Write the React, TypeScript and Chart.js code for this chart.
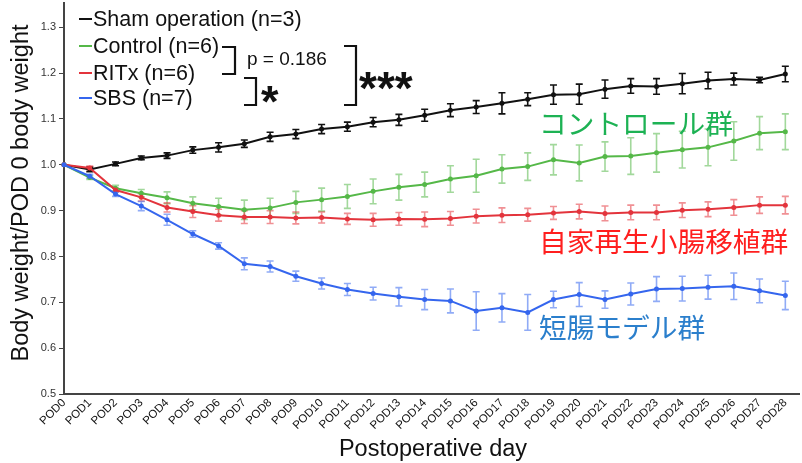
import { useEffect, useRef } from 'react';
import { Chart, registerables } from 'chart.js';

Chart.register(...registerables);

const xLabels = [
  'POD0', 'POD1', 'POD2', 'POD3', 'POD4', 'POD5', 'POD6', 'POD7', 'POD8', 'POD9',
  'POD10', 'POD11', 'POD12', 'POD13', 'POD14', 'POD15', 'POD16', 'POD17', 'POD18', 'POD19',
  'POD20', 'POD21', 'POD22', 'POD23', 'POD24', 'POD25', 'POD26', 'POD27', 'POD28',
];

const sham = [1.0, 0.99, 1.002, 1.015, 1.02, 1.032, 1.038, 1.046, 1.061, 1.067, 1.078, 1.083, 1.093, 1.098, 1.108, 1.119, 1.126, 1.134, 1.143, 1.153, 1.154, 1.165, 1.172, 1.171, 1.177, 1.184, 1.187, 1.185, 1.198];
const shamErr = [0, 0.005, 0.004, 0.004, 0.006, 0.007, 0.01, 0.008, 0.01, 0.01, 0.01, 0.01, 0.01, 0.012, 0.013, 0.014, 0.014, 0.023, 0.014, 0.021, 0.022, 0.02, 0.016, 0.017, 0.022, 0.018, 0.013, 0.006, 0.017];

const control = [1.0, 0.972, 0.949, 0.938, 0.928, 0.916, 0.909, 0.902, 0.906, 0.918, 0.924, 0.931, 0.942, 0.951, 0.957, 0.969, 0.976, 0.991, 0.996, 1.011, 1.004, 1.018, 1.019, 1.026, 1.033, 1.038, 1.052, 1.069, 1.072];
const controlErr = [0, 0.004, 0.006, 0.008, 0.013, 0.014, 0.018, 0.021, 0.021, 0.024, 0.025, 0.026, 0.027, 0.028, 0.027, 0.029, 0.036, 0.031, 0.03, 0.033, 0.039, 0.032, 0.04, 0.042, 0.04, 0.04, 0.042, 0.036, 0.039];

const ritx = [1.0, 0.993, 0.945, 0.929, 0.907, 0.898, 0.89, 0.886, 0.886, 0.884, 0.885, 0.882, 0.88, 0.882, 0.881, 0.883, 0.888, 0.89, 0.891, 0.895, 0.898, 0.894, 0.896, 0.896, 0.901, 0.903, 0.907, 0.912, 0.912];
const ritxErr = [0, 0.004, 0.004, 0.008, 0.01, 0.013, 0.013, 0.014, 0.014, 0.013, 0.012, 0.012, 0.014, 0.014, 0.016, 0.015, 0.015, 0.016, 0.014, 0.014, 0.016, 0.016, 0.016, 0.016, 0.016, 0.016, 0.017, 0.018, 0.019];

const sbs = [1.0, 0.975, 0.936, 0.91, 0.88, 0.849, 0.823, 0.784, 0.778, 0.757, 0.741, 0.728, 0.719, 0.712, 0.706, 0.703, 0.681, 0.688, 0.678, 0.706, 0.717, 0.706, 0.718, 0.729, 0.73, 0.733, 0.735, 0.725, 0.715];
const sbsErr = [0, 0.004, 0.005, 0.01, 0.012, 0.007, 0.007, 0.013, 0.012, 0.011, 0.012, 0.013, 0.014, 0.02, 0.022, 0.026, 0.042, 0.031, 0.039, 0.018, 0.026, 0.019, 0.024, 0.027, 0.027, 0.026, 0.029, 0.026, 0.031];

const seriesNames = ['Sham operation (n=3)', 'Control (n=6)', 'RITx (n=6)', 'SBS (n=7)'];
const seriesColors = ['#111111', '#55b848', '#e3343c', '#3566ee'];
const errColors = ['#111111', 'rgba(85,184,72,0.55)', 'rgba(227,52,60,0.55)', 'rgba(53,102,238,0.55)'];
const groupLabels = ['コントロール群', '自家再生小腸移植群', '短腸モデル群'];
const groupColors = ['#1db254', '#ff1f1f', '#2b7fcc'];
const pText = 'p = 0.186';
const starOne = '*';
const starThree = '***';
const yTitle = 'Body weight/POD 0 body weight';
const xTitle = 'Postoperative day';

const SANS = '"Liberation Sans", Arial, sans-serif';
const CJK = '"Noto Sans CJK JP", sans-serif';

const allValues = [sham, control, ritx, sbs];
const allErrs = [shamErr, controlErr, ritxErr, sbsErr];

const errorBarPlugin = {
  id: 'errorBars',
  beforeDatasetsDraw(chart: any) {
    const { ctx, scales } = chart;
    const xs = scales.x;
    const ys = scales.y;
    ctx.save();
    allValues.forEach((vals, si) => {
      ctx.strokeStyle = errColors[si];
      ctx.lineWidth = 1.6;
      vals.forEach((v, i) => {
        const e = allErrs[si][i];
        if (!e) return;
        const px = xs.getPixelForValue(i);
        const top = ys.getPixelForValue(v + e);
        const bot = ys.getPixelForValue(v - e);
        ctx.beginPath();
        ctx.moveTo(px, top);
        ctx.lineTo(px, bot);
        ctx.moveTo(px - 3.5, top);
        ctx.lineTo(px + 3.5, top);
        ctx.moveTo(px - 3.5, bot);
        ctx.lineTo(px + 3.5, bot);
        ctx.stroke();
      });
    });
    ctx.restore();
  },
};

const annotationPlugin = {
  id: 'annotations',
  afterDraw(chart: any) {
    const { ctx } = chart;
    ctx.save();
    // axis titles
    ctx.fillStyle = '#111';
    ctx.font = `23.5px ${SANS}`;
    ctx.textAlign = 'center';
    ctx.textBaseline = 'middle';
    ctx.save();
    ctx.translate(22, 193);
    ctx.rotate(-Math.PI / 2);
    ctx.fillText(yTitle, 0, 0);
    ctx.restore();
    ctx.textBaseline = 'alphabetic';
    ctx.fillText(xTitle, 433, 456);

    // legend
    const rows = [20, 47, 74, 99];
    ctx.textAlign = 'left';
    ctx.textBaseline = 'middle';
    ctx.font = `21.5px ${SANS}`;
    seriesNames.forEach((name, i) => {
      ctx.strokeStyle = seriesColors[i];
      ctx.lineWidth = 2;
      ctx.beginPath();
      ctx.moveTo(79, rows[i] - 1);
      ctx.lineTo(92, rows[i] - 1);
      ctx.stroke();
      ctx.fillStyle = '#111';
      ctx.fillText(name, 93, rows[i]);
    });

    // brackets
    ctx.strokeStyle = '#111';
    ctx.lineWidth = 2.2;
    const bracket = (x0: number, x1: number, y0: number, y1: number) => {
      ctx.beginPath();
      ctx.moveTo(x0, y0);
      ctx.lineTo(x1, y0);
      ctx.lineTo(x1, y1);
      ctx.lineTo(x0, y1);
      ctx.stroke();
    };
    bracket(222, 235, 47, 74);
    bracket(244, 256, 78, 105);
    bracket(344, 356, 46, 105);

    ctx.fillStyle = '#111';
    ctx.textBaseline = 'alphabetic';
    ctx.font = `19px ${SANS}`;
    ctx.fillText(pText, 247, 64.5);
    ctx.font = `bold 45px ${SANS}`;
    ctx.fillText(starOne, 261, 117);
    ctx.font = `bold 46px ${SANS}`;
    ctx.fillText(starThree, 359, 104);

    // group labels
    ctx.font = `27.7px ${CJK}`;
    ctx.textBaseline = 'middle';
    const gy = [123, 241, 327];
    groupLabels.forEach((t, i) => {
      ctx.fillStyle = groupColors[i];
      ctx.fillText(t, 539, gy[i]);
    });
    ctx.restore();
  },
};

export default function App() {
  const ref = useRef<HTMLCanvasElement>(null);
  useEffect(() => {
    if (!ref.current) return;
    const datasets = allValues.map((vals, si) => ({
      label: seriesNames[si],
      data: vals.map((y, i) => ({ x: i, y })),
      borderColor: seriesColors[si],
      backgroundColor: seriesColors[si],
      borderWidth: 2,
      pointRadius: 2.5,
      pointHoverRadius: 2.5,
      pointBorderWidth: 0,
      tension: 0,
      clip: false as any,
    }));
    // draw black on top
    const ordered = [datasets[3], datasets[2], datasets[1], datasets[0]];
    const chart = new Chart(ref.current, {
      type: 'line',
      data: { datasets: ordered },
      options: {
        responsive: false,
        animation: false,
        events: [],
        layout: { padding: { top: 0, right: 1, left: 0, bottom: 0 } },
        plugins: { legend: { display: false }, tooltip: { enabled: false } },
        scales: {
          x: {
            type: 'linear',
            min: 0,
            max: 28.55,
            offset: false,
            grid: { display: false, drawTicks: false },
            border: { display: true, color: '#444', width: 2 },
            ticks: {
              stepSize: 1,
              includeBounds: false,
              autoSkip: false,
              maxRotation: 45,
              minRotation: 45,
              padding: 2,
              color: '#111',
              font: { family: SANS, size: 11.5 },
              callback: (v: any) => xLabels[Math.round(Number(v))] ?? '',
            },
            afterFit: (s: any) => {
              s.height = 69;
              s.paddingLeft = 0;
              s.paddingRight = 0;
            },
          },
          y: {
            min: 0.5,
            max: 1.354,
            grid: { display: true, drawOnChartArea: false, drawTicks: true, tickLength: 5, color: '#444', lineWidth: 1 },
            border: { display: true, color: '#444', width: 2 },
            ticks: {
              stepSize: 0.1,
              includeBounds: false,
              padding: 3,
              color: '#333',
              font: { family: SANS, size: 11 },
              callback: (v: any) => Number(v).toFixed(1),
            },
            afterFit: (s: any) => {
              s.width = 64;
              s.paddingTop = 0;
              s.paddingBottom = 0;
            },
          },
        },
      },
      plugins: [errorBarPlugin, annotationPlugin],
    });
    return () => chart.destroy();
  }, []);
  return (
    <div style={{ position: 'fixed', left: 0, top: 0, width: 802, height: 463, background: '#fff' }}>
      <canvas ref={ref} width={802} height={463} />
    </div>
  );
}
